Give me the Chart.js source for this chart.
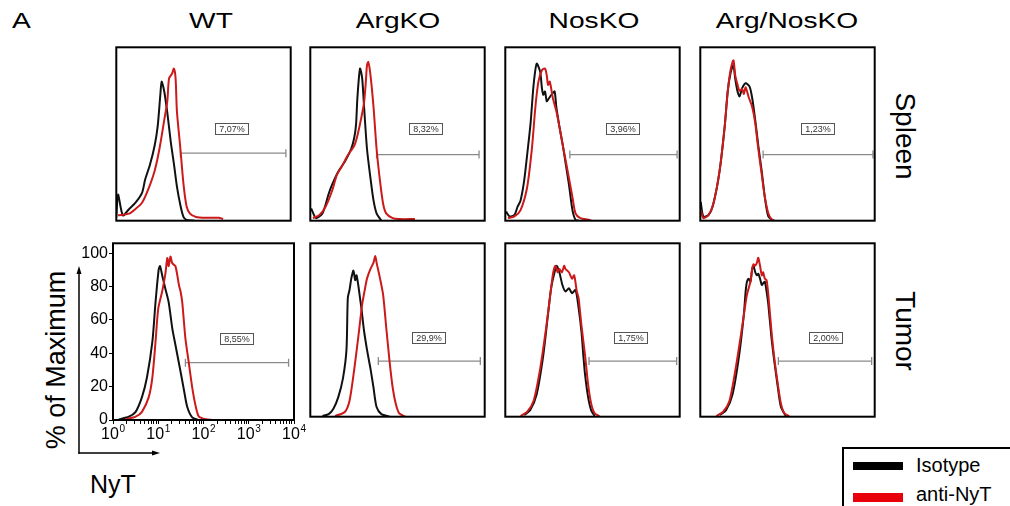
<!DOCTYPE html>
<html><head><meta charset="utf-8">
<script src="https://cdn.jsdelivr.net/npm/chart.js@4.4.1/dist/chart.umd.min.js"></script>
<style>
html,body{margin:0;padding:0;background:#fff;}
body{width:1010px;height:506px;overflow:hidden;position:relative;font-family:"Liberation Sans",Arial,sans-serif;color:#000;}
.t{position:absolute;white-space:nowrap;line-height:1;}
canvas{position:absolute;}
</style></head><body>
<div class="t" style="left:12px;top:10px;font-size:22px;transform-origin:0 0;transform:scaleX(1.28);">A</div>
<div id="titles"></div>
<div class="t" style="left:905px;top:136px;font-size:28px;transform:translate(-50%,-50%) rotate(90deg);">Spleen</div>
<div class="t" style="left:905px;top:331px;font-size:28px;transform:translate(-50%,-50%) rotate(90deg);">Tumor</div>
<div class="t" style="left:56px;top:360px;font-size:27px;transform:translate(-50%,-50%) rotate(-90deg);">% of Maximum</div>
<div class="t" style="left:90px;top:472px;font-size:25px;">NyT</div>
<svg style="position:absolute;left:0;top:0" width="1010" height="506">
  <line x1="79" y1="453.75" x2="79" y2="272" stroke="#000" stroke-width="1.5"/>
  <polygon points="79,266 76.5,274 81.5,274" fill="#000"/>
  <line x1="78.25" y1="453" x2="153" y2="453" stroke="#000" stroke-width="1.5"/>
  <polygon points="160,453 152,450.5 152,455.5" fill="#000"/>
</svg>
<div style="position:absolute;left:842px;top:447px;width:200px;height:80px;border:2px solid #000;box-sizing:border-box;"></div>
<div style="position:absolute;left:853px;top:462px;width:50px;height:8px;background:#000;"></div>
<div style="position:absolute;left:853px;top:493px;width:50px;height:9px;background:#e8000b;"></div>
<div class="t" style="left:916px;top:455px;font-size:20px;">Isotype</div>
<div class="t" style="left:916px;top:484px;font-size:20px;">anti-NyT</div>
<script>
// ---- categories / labels ----
const columnTitles = ['WT', 'ArgKO', 'NosKO', 'Arg/NosKO'];
const xTickBase = '10';
const xTickExponents = ['0', '1', '2', '3', '4'];
const xMajorTicks = [0, 1, 2, 3, 4];
const yTicks = [0, 20, 40, 60, 80, 100];
const gateLabels = ['7,07%', '8,32%', '3,96%', '1,23%', '8,55%', '29,9%', '1,75%', '2,00%'];
const gateLabelX = [2.64, 2.64, 2.68, 2.69, 2.74, 2.72, 2.88, 2.87];
const gateLabelY = [56.3, 56.2, 56.2, 56.2, 48.7, 48.7, 48.7, 48.7];

// ---- series: [log10(NyT), % of max] ----
const wtSpleenIso = [[0,2],[0.04,16],[0.15,3.3],[0.29,7],[0.44,11],[0.59,17],[0.66,25],[0.77,34],[0.88,46],[0.95,58],[1.01,77],[1.04,85],[1.10,79],[1.17,66],[1.25,48],[1.32,35],[1.39,21],[1.47,9.4],[1.54,2.3],[1.61,0.5],[1.8,0]];
const wtSpleenAnti = [[0.04,3.3],[0.29,4.3],[0.44,7.2],[0.59,11],[0.73,19],[0.88,30.6],[0.99,44],[1.10,61.6],[1.17,73],[1.21,87],[1.28,90],[1.32,93],[1.36,87],[1.39,67],[1.47,44],[1.54,22.6],[1.61,9],[1.69,4.3],[1.83,2.3],[2.06,1.8],[2.35,1.8],[2.45,1]];
const argSpleenIso = [[0.02,7.5],[0.13,1.6],[0.28,4.5],[0.42,16.3],[0.50,22],[0.64,30],[0.79,36],[0.94,44],[1.01,51],[1.05,59],[1.08,75],[1.14,93],[1.19,87],[1.23,71],[1.30,44],[1.38,26],[1.45,12.4],[1.52,4.5],[1.63,0]];
const argSpleenAnti = [[0.06,1.6],[0.21,3.5],[0.35,8.5],[0.50,18.3],[0.61,28],[0.72,33],[0.86,40],[1.01,46],[1.08,52],[1.16,61.7],[1.23,71.5],[1.27,83.5],[1.30,95],[1.33,97],[1.38,89],[1.45,69.5],[1.52,44],[1.60,24],[1.67,10.4],[1.74,4.5],[1.89,1.6],[2.04,1],[2.40,1]];
const nosSpleenIso = [[0.02,5.5],[0.10,2.6],[0.21,3.5],[0.28,8.5],[0.35,12.4],[0.43,24],[0.50,40],[0.58,59.7],[0.65,83.3],[0.72,96],[0.80,91],[0.84,81],[0.87,77],[0.91,79],[0.95,73],[0.98,74],[1.06,77],[1.13,79],[1.17,69.5],[1.24,57.7],[1.32,45.9],[1.39,34],[1.46,22],[1.54,6.5],[1.61,0.6],[1.69,0]];
const nosSpleenAnti = [[0.06,1.6],[0.21,2.6],[0.35,6.5],[0.50,20.3],[0.61,44],[0.69,69.5],[0.76,85],[0.84,92],[0.91,93],[0.95,89],[0.98,83],[1.02,85],[1.09,75],[1.17,67],[1.24,57.7],[1.32,45.9],[1.39,36],[1.46,26],[1.54,14.4],[1.61,4.5],[1.72,1.6],[1.91,0.6],[1.98,0]];
const dkoSpleenIso = [[0.01,11.4],[0.07,2.6],[0.19,3.5],[0.30,10.4],[0.44,30],[0.56,57.7],[0.63,79.4],[0.70,91],[0.76,95],[0.80,87],[0.85,79.4],[0.90,76],[0.96,81],[1.04,84],[1.13,82],[1.19,75],[1.26,61.5],[1.33,45.9],[1.41,30],[1.48,14.4],[1.56,2.6],[1.67,0]];
const dkoSpleenAnti = [[0.01,6.5],[0.07,1.6],[0.19,3.5],[0.30,10.4],[0.44,30],[0.56,57.7],[0.63,79.4],[0.70,93],[0.76,98],[0.80,89],[0.85,83.5],[0.90,79.4],[0.96,80.5],[1.00,77.5],[1.04,81.5],[1.11,75.5],[1.19,69.5],[1.26,59.7],[1.33,44],[1.41,28],[1.48,14.4],[1.56,4.5],[1.63,1],[1.70,0]];
const wtTumorIso = [[0.13,0.4],[0.35,2],[0.50,4.9],[0.64,13.7],[0.75,25.5],[0.87,47],[0.94,70.7],[1.01,90.3],[1.04,92.3],[1.09,86.4],[1.16,78.5],[1.23,70.7],[1.31,55],[1.38,45],[1.49,29.4],[1.57,17.7],[1.64,7.9],[1.75,1.6],[1.90,0]];
const wtTumorAnti = [[0.27,0.4],[0.50,2],[0.64,4.9],[0.79,13.7],[0.87,25.5],[0.94,47],[1.00,66.8],[1.09,77.5],[1.16,88.3],[1.20,97.2],[1.23,92.3],[1.27,98],[1.31,94],[1.38,92.3],[1.46,80.5],[1.49,77.5],[1.53,70.7],[1.60,49],[1.68,33.4],[1.75,19.6],[1.83,7.9],[1.90,2],[2.05,0.4],[2.20,0]];
const argTumorIso = [[0.28,0.4],[0.42,1.6],[0.53,4.9],[0.64,11.8],[0.75,23.6],[0.83,41],[0.86,72.6],[0.90,77.5],[0.94,84.4],[0.99,89.3],[1.03,83.5],[1.06,86.4],[1.10,80.5],[1.14,72.6],[1.17,66.8],[1.23,53],[1.30,41],[1.38,29.4],[1.45,17.7],[1.52,5.9],[1.63,1.6],[1.82,0]];
const argTumorAnti = [[0.57,0.4],[0.79,2.9],[0.90,9.8],[1.01,29.4],[1.12,53],[1.19,68.7],[1.27,80.5],[1.30,84.4],[1.38,90.3],[1.45,94.2],[1.49,98.2],[1.52,94.2],[1.60,84.4],[1.67,74.6],[1.74,55],[1.82,33.4],[1.89,17.7],[1.96,7.9],[2.04,2],[2.18,0]];
const nosTumorIso = [[0.43,1],[0.57,3.9],[0.72,13.7],[0.87,37.3],[0.98,62.8],[1.05,78.5],[1.13,88.3],[1.18,92.3],[1.24,88.3],[1.31,80.5],[1.38,76.6],[1.46,78.5],[1.53,75.5],[1.61,77.5],[1.68,66.8],[1.75,51],[1.79,37.3],[1.83,25.5],[1.90,11.8],[1.97,3.9],[2.05,0.4]];
const nosTumorAnti = [[0.35,0.4],[0.50,2.9],[0.65,9.8],[0.80,29.4],[0.94,55],[1.05,78.5],[1.10,88.3],[1.15,92.3],[1.20,88.3],[1.24,90.3],[1.30,88.3],[1.35,92.3],[1.38,90.3],[1.46,88.3],[1.53,84.4],[1.58,86.4],[1.64,76.6],[1.68,72.6],[1.75,55],[1.83,37.3],[1.90,19.6],[1.97,7.9],[2.05,2],[2.16,0.4]];
const dkoTumorIso = [[0.44,1],[0.59,3.9],[0.74,13.7],[0.89,37.3],[1.00,62.8],[1.04,76.6],[1.07,82.5],[1.11,84.4],[1.15,82.5],[1.19,90.3],[1.22,92.3],[1.26,88.3],[1.30,86.4],[1.33,87.4],[1.37,84.4],[1.41,80.5],[1.44,81.5],[1.48,82.5],[1.52,76.6],[1.56,68.7],[1.63,49],[1.70,33.4],[1.78,17.7],[1.85,5.9],[1.96,0.4]];
const dkoTumorAnti = [[0.37,0.4],[0.52,2.9],[0.67,9.8],[0.81,29.4],[0.96,55],[1.07,74.6],[1.15,82.5],[1.19,90.3],[1.22,93.2],[1.26,92.3],[1.30,94.2],[1.33,97.2],[1.37,92.3],[1.41,86.4],[1.44,88.3],[1.48,84.4],[1.52,83.5],[1.56,74.6],[1.63,53],[1.70,35.3],[1.78,19.6],[1.85,7.9],[1.93,2],[2.04,0.4]];

// gates: [start, end, height]
const wtSpleenGate = [1.47, 3.89, 41.3];
const argSpleenGate = [1.52, 3.87, 40.4];
const nosSpleenGate = [1.48, 3.94, 40.4];
const dkoSpleenGate = [1.44, 3.96, 40.4];
const wtTumorGate = [1.60, 3.88, 34.4];
const argTumorGate = [1.56, 3.90, 34.0];
const nosTumorGate = [1.92, 3.93, 34.0];
const dkoTumorGate = [1.79, 3.93, 34.0];

// ---- layout ----
const FONT = '"Liberation Sans", Arial, sans-serif';
const RED = '#cc1a1a', BLACK = '#111111', GREY = '#8a8a8a';
const PW = 181, PH = 180;
const colX = [113, 307, 502, 697];
const rowY = [44, 240];
const titleX = [211, 398, 594, 787];

const titles = document.getElementById('titles');
columnTitles.forEach((t, i) => {
  const d = document.createElement('div');
  d.className = 't';
  d.style.cssText = `left:${titleX[i]}px;top:10px;font-size:22px;transform:translateX(-50%) scaleX(1.28);`;
  d.textContent = t;
  titles.appendChild(d);
});

const xTickValues = [];
for (let n = 0; n < 4; n++) for (let k = 1; k <= 9; k++) xTickValues.push(n + Math.log10(k));
xTickValues.push(4);

const panels = [
  {iso: wtSpleenIso, anti: wtSpleenAnti, gate: wtSpleenGate, col: 0, row: 0},
  {iso: argSpleenIso, anti: argSpleenAnti, gate: argSpleenGate, col: 1, row: 0},
  {iso: nosSpleenIso, anti: nosSpleenAnti, gate: nosSpleenGate, col: 2, row: 0},
  {iso: dkoSpleenIso, anti: dkoSpleenAnti, gate: dkoSpleenGate, col: 3, row: 0},
  {iso: wtTumorIso, anti: wtTumorAnti, gate: wtTumorGate, col: 0, row: 1, axes: true},
  {iso: argTumorIso, anti: argTumorAnti, gate: argTumorGate, col: 1, row: 1},
  {iso: nosTumorIso, anti: nosTumorAnti, gate: nosTumorGate, col: 2, row: 1},
  {iso: dkoTumorIso, anti: dkoTumorAnti, gate: dkoTumorGate, col: 3, row: 1},
];

const framePlugin = {
  id: 'frame',
  afterDatasetsDraw(chart) {
    const {ctx, chartArea: a} = chart;
    ctx.save();
    ctx.strokeStyle = '#000';
    ctx.lineWidth = 2;
    ctx.strokeRect(a.left, a.top, a.right - a.left, a.bottom - a.top);
    ctx.restore();
  }
};
const gateLabelPlugin = {
  id: 'gateLabel',
  afterDatasetsDraw(chart, args, opts) {
    const {ctx, scales} = chart;
    const px = scales.x.getPixelForValue(opts.x);
    const py = scales.y.getPixelForValue(opts.y);
    ctx.save();
    ctx.font = '9px ' + FONT;
    const tw = ctx.measureText(opts.text).width;
    const bw = Math.round(tw + 7), bh = 11;
    const bx = Math.round(px - bw / 2), by = Math.round(py - bh / 2);
    ctx.fillStyle = '#fff';
    ctx.fillRect(bx, by, bw, bh);
    ctx.strokeStyle = '#555';
    ctx.lineWidth = 1;
    ctx.strokeRect(bx + 0.5, by + 0.5, bw, bh);
    ctx.fillStyle = '#333';
    ctx.textAlign = 'center';
    ctx.textBaseline = 'middle';
    ctx.fillText(opts.text, bx + bw / 2 + 0.5, by + bh / 2 + 1);
    ctx.restore();
  }
};
// draws the exponent of each major x tick label (10^n) as a superscript
const X_LABEL_OFFSET = -3;
const superscriptPlugin = {
  id: 'supers',
  afterDraw(chart) {
    if (!chart.options.plugins.supers || !chart.options.plugins.supers.on) return;
    const {ctx, scales: {x}} = chart;
    ctx.save();
    ctx.font = '16px ' + FONT;
    const baseW = ctx.measureText(xTickBase).width;
    ctx.font = '10px ' + FONT;
    ctx.fillStyle = '#000';
    ctx.textAlign = 'left';
    ctx.textBaseline = 'top';
    const top = x.top + 4 + 1;
    xMajorTicks.forEach((v, k) => {
      const px = x.getPixelForValue(v) + X_LABEL_OFFSET + baseW / 2 + 0.5;
      ctx.fillText(xTickExponents[k], px, top - 1);
    });
    ctx.restore();
  }
};

const toXY = arr => arr.map(([x, y]) => ({x, y}));

panels.forEach((p, i) => {
  const left = colX[p.col], top = rowY[p.row];
  const c = document.createElement('canvas');
  let cl, ct, cw, ch, pad;
  if (p.axes) {
    cl = left - 45; ct = top - 2; cw = 45 + PW + 16; ch = 2 + PH + 30;
    pad = {left: 0, top: 2, right: 16, bottom: 0};
  } else {
    cl = left - 2; ct = top - 2; cw = PW + 4; ch = PH + 4;
    pad = 2;
  }
  c.width = cw; c.height = ch;
  c.style.left = cl + 'px'; c.style.top = ct + 'px';
  c.style.width = cw + 'px'; c.style.height = ch + 'px';
  document.body.appendChild(c);

  const xScale = p.axes ? {
    type: 'linear', min: 0, max: 4,
    afterBuildTicks: s => { s.ticks = xTickValues.map(v => ({value: v})); },
    afterFit: s => { s.height = 30; s.paddingLeft = 0; s.paddingRight = 0; },
    ticks: {
      autoSkip: false, maxRotation: 0, minRotation: 0, padding: 1, color: '#000',
      labelOffset: X_LABEL_OFFSET,
      font: {family: FONT, size: 16},
      callback: v => (xMajorTicks.indexOf(Math.round(v * 1e6) / 1e6) >= 0 ? xTickBase : '')
    },
    grid: {drawOnChartArea: false, drawTicks: true, tickLength: 4, color: '#000', lineWidth: 1},
    border: {display: false}
  } : {type: 'linear', min: 0, max: 4, display: false};

  const yScale = p.axes ? {
    type: 'linear', min: 0, max: 106,
    afterBuildTicks: s => { s.ticks = yTicks.map(v => ({value: v})); },
    afterFit: s => { s.width = 45; s.paddingTop = 0; s.paddingBottom = 0; },
    ticks: {padding: 1, color: '#000', font: {family: FONT, size: 16}},
    grid: {drawOnChartArea: false, drawTicks: true, tickLength: 4, color: '#000', lineWidth: 1},
    border: {display: false}
  } : {type: 'linear', min: 0, max: 106, display: false};

  new Chart(c, {
    type: 'line',
    data: {datasets: [
      {label: 'anti-NyT', data: toXY(p.anti), borderColor: RED, borderWidth: 2, pointRadius: 0, fill: false, tension: 0.25, order: 0},
      {label: 'Isotype', data: toXY(p.iso), borderColor: BLACK, borderWidth: 2, pointRadius: 0, fill: false, tension: 0.25, order: 1},
      {label: 'gate', data: [{x: p.gate[0], y: p.gate[2]}, {x: p.gate[1], y: p.gate[2]}],
       borderColor: GREY, borderWidth: 1.3, fill: false, pointStyle: 'line', rotation: 90,
       pointRadius: 4, pointBorderColor: GREY, pointBorderWidth: 1.3, order: 2}
    ]},
    options: {
      responsive: false, animation: false, devicePixelRatio: 1,
      layout: {padding: pad},
      plugins: {
        legend: {display: false}, tooltip: {enabled: false},
        gateLabel: {text: gateLabels[i], x: gateLabelX[i], y: gateLabelY[i]},
        supers: {on: !!p.axes}
      },
      scales: {x: xScale, y: yScale}
    },
    plugins: [gateLabelPlugin, framePlugin, superscriptPlugin]
  });
});
</script>
</body></html>
